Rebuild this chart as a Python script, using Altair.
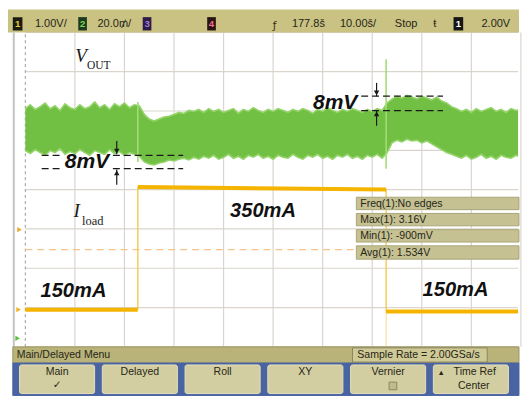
import altair as alt
import pandas as pd

# ------------------------------------------------------------------
# Values
# ------------------------------------------------------------------
US_PER_DIV = 10            # 10.00 us/div, 10 divisions
VOUT_MV_PER_DIV = 20       # channel 2: 20.0 mV/div

TIME_US = list(range(0, 101))
VOUT_TOP_MV = [11.6, 13.6, 11.2, 12.6, 14.5, 11.6, 13.1, 10.7, 14.1, 12.1,
               11.2, 13.6, 11.6, 12.6, 15.0, 12.1, 13.6, 11.2, 14.1, 12.6,
               14.5, 12.1, 13.6, 13.1, 8.7, 6.3, 5.3, 6.3, 7.3, 7.8,
               8.7, 9.7, 9.2, 10.7, 10.2, 11.2, 9.7, 11.6, 10.2, 11.2,
               9.7, 10.7, 11.6, 9.2, 11.2, 10.2, 12.1, 10.7, 9.7, 11.2,
               10.2, 11.6, 10.7, 9.7, 11.2, 10.2, 11.6, 10.7, 9.2, 11.2,
               10.2, 12.1, 10.7, 9.7, 11.2, 10.2, 11.6, 10.7, 9.7, 11.2,
               10.2, 11.6, 10.7, 14.5, 16.5, 17.9, 17.0, 18.4, 17.5, 16.5,
               17.9, 17.0, 16.0, 17.5, 15.5, 14.5, 12.6, 11.6, 10.2, 11.2,
               9.7, 11.6, 10.2, 11.2, 12.1, 10.2, 11.2, 9.7, 11.6, 10.7, 11.2]
VOUT_BOT_MV = [-9.7, -11.2, -9.2, -10.7, -12.1, -9.7, -10.7, -8.7, -11.6, -10.2,
               -11.2, -9.2, -10.7, -12.1, -9.7, -10.7, -11.6, -9.2, -11.2, -10.2,
               -12.1, -10.7, -11.6, -12.6, -15.5, -16.5, -17.0, -16.0, -15.5, -14.5,
               -15.0, -14.1, -13.6, -14.5, -13.1, -14.1, -12.6, -13.6, -12.1, -14.1,
               -13.1, -11.6, -13.6, -12.6, -14.1, -12.1, -13.1, -11.6, -13.6, -12.6,
               -14.1, -12.1, -13.1, -13.6, -11.6, -13.1, -14.1, -12.1, -13.1, -11.6,
               -13.6, -12.6, -14.1, -12.1, -13.1, -11.6, -13.6, -12.6, -14.1, -12.1,
               -13.1, -11.6, -13.6, -10.7, -5.8, -4.4, -5.3, -3.9, -4.8, -4.4,
               -5.8, -4.8, -6.3, -7.8, -9.2, -10.7, -11.6, -12.6, -13.6, -12.1,
               -14.1, -13.1, -11.6, -13.6, -12.6, -14.1, -12.1, -13.1, -13.6, -12.1, -13.1]
SPIKE_T_US = [22.7, 72.8]
SPIKE_TOP_MV = [15.0, 36.8]
SPIKE_BOT_MV = [-15.5, -18.9]

ILOAD_SEGMENT = ["a", "a", "b", "b", "c", "c"]
ILOAD_T_US = [0, 22.7, 22.7, 72.8, 72.8, 100]
ILOAD_MA = [150, 150, 351, 347, 147, 147]
EDGE_T_US = [22.7, 72.8]
EDGE_FROM_MA = [150, 347]
EDGE_TO_MA = [351, 147]

LEVEL_LABELS = ["150mA", "350mA", "150mA"]
RIPPLE_LABELS = ["8mV", "8mV"]
MEASUREMENTS = ["Freq(1):No edges", "Max(1): 3.16V", "Min(1): -900mV", "Avg(1): 1.534V"]
TOP_TEXTS = ["1.00V/", "20.0\u20a5/", "177.8\u0161", "10.00\u0161/", "Stop", "\u0167", "2.00V"]
CHANNEL_TAGS = ["1", "2", "3", "4", "1"]
BUTTONS = ["Main", "Delayed", "Roll", "XY", "Vernier", "Time Ref"]

# ------------------------------------------------------------------
# Screen geometry (reference pixels -> scope units)
# ------------------------------------------------------------------
GRID_LEFT_PX, PX_PER_XDIV = 18, 51.5
GRID_BOTTOM_PX, PX_PER_YDIV = 354, 41.25


def tx(px):
    return (px - GRID_LEFT_PX) / PX_PER_XDIV * US_PER_DIV


def dy(py):
    return (GRID_BOTTOM_PX - py) / PX_PER_YDIV


VOUT_REF_DIV = dy(128)
CH1_MA_PER_DIV = 64.45
CH1_ZERO_DIV = -1.382


def vout_div(mv):
    return VOUT_REF_DIV + mv / VOUT_MV_PER_DIV


def iload_div(ma):
    return CH1_ZERO_DIV + ma / CH1_MA_PER_DIV


CW, CH = 514, 388
FS = 0.965
UI_FONT = "Liberation Sans"
UI_TEXT = "#262618"

XS = alt.Scale(domain=[tx(0), tx(530)], nice=False, zero=False)
YS = alt.Scale(domain=[dy(404), dy(0)], nice=False, zero=False)


def X(f):
    return alt.X(f + ":Q", scale=XS, axis=None)


def Y(f):
    return alt.Y(f + ":Q", scale=YS, axis=None)


def rect_df(rows):
    df = pd.DataFrame(rows, columns=["x0", "y0", "x1", "y1", "fill", "stroke"])
    df["x"] = df.x0.map(tx)
    df["x2"] = df.x1.map(tx)
    df["y"] = df.y0.map(dy)
    df["y2"] = df.y1.map(dy)
    return df


def rect_layer(rows, **kw):
    return alt.Chart(rect_df(rows)).mark_rect(**kw).encode(
        x=X("x"), x2="x2:Q", y=Y("y"), y2="y2:Q",
        fill=alt.Fill("fill:N", scale=None),
        stroke=alt.Stroke("stroke:N", scale=None))


def text_layer(items, **kw):
    # items: (label, x_px, y_px)
    df = pd.DataFrame(items, columns=["label", "px", "py"])
    df["x"] = df.px.map(tx)
    df["y"] = df.py.map(dy)
    return alt.Chart(df).mark_text(**kw).encode(x=X("x"), y=Y("y"), text="label:N")


def hrule_px(rows, **kw):
    # rows: (x0_px, x1_px, y_px)
    df = pd.DataFrame(rows, columns=["a", "b", "c"])
    df["x"] = df.a.map(tx)
    df["x2"] = df.b.map(tx)
    df["y"] = df.c.map(dy)
    return alt.Chart(df).mark_rule(**kw).encode(x=X("x"), x2="x2:Q", y=Y("y"))


def vrule_px(rows, **kw):
    # rows: (x_px, y0_px, y1_px)
    df = pd.DataFrame(rows, columns=["a", "b", "c"])
    df["x"] = df.a.map(tx)
    df["y"] = df.b.map(dy)
    df["y2"] = df.c.map(dy)
    return alt.Chart(df).mark_rule(**kw).encode(x=X("x"), y=Y("y"), y2="y2:Q")


layers = []

# ---- graticule ----
gv = pd.DataFrame({"x": [US_PER_DIV * k for k in range(1, 11)]})
gv["y"] = 0
gv["y2"] = 8
layers.append(alt.Chart(gv).mark_rule(color="#d9d5cd", strokeWidth=1.2).encode(
    x=X("x"), y=Y("y"), y2="y2:Q"))
gh = pd.DataFrame({"y": list(range(0, 9))})
gh["x"] = 0
gh["x2"] = 100
layers.append(alt.Chart(gh).mark_rule(color="#d9d5cd", strokeWidth=1.2, clip=True).encode(
    x=X("x"), x2="x2:Q", y=Y("y")))
g0 = pd.DataFrame({"x": [0], "y": [0], "y2": [8]})
layers.append(alt.Chart(g0).mark_rule(color="#9a9a9a", strokeWidth=1, strokeDash=[3, 3]).encode(
    x=X("x"), y=Y("y"), y2="y2:Q"))
layers.append(vrule_px([(6, 24, 354)], color="#c3c3c3", strokeWidth=2))

# trigger level (dashed orange)
layers.append(hrule_px([(18, 362, 252)], color="#f6c48c", strokeWidth=1.2, strokeDash=[7, 5]))

# ---- Vout band (channel 2) ----
band = pd.DataFrame({"t": TIME_US,
                     "top": [vout_div(v) for v in VOUT_TOP_MV],
                     "bot": [vout_div(v) for v in VOUT_BOT_MV]})
layers.append(alt.Chart(band).mark_area(color="#72c043", clip=True).encode(
    x=X("t"), y=Y("top"), y2="bot:Q"))
edges = pd.concat([
    pd.DataFrame({"t": TIME_US, "v": band["top"], "edge": "top"}),
    pd.DataFrame({"t": TIME_US, "v": band["bot"], "edge": "bot"})])
layers.append(alt.Chart(edges).mark_line(color="#94d36a", strokeWidth=1.6, clip=True).encode(
    x=X("t"), y=Y("v"), detail="edge:N"))
spikes = pd.DataFrame({"t": SPIKE_T_US,
                       "top": [vout_div(v) for v in SPIKE_TOP_MV],
                       "bot": [vout_div(v) for v in SPIKE_BOT_MV]})
layers.append(alt.Chart(spikes).mark_rule(color="#a3dc78", strokeWidth=1.6).encode(
    x=X("t"), y=Y("top"), y2="bot:Q"))

# ---- load current (channel 1) ----
edge_df = pd.DataFrame({"t": EDGE_T_US,
                        "a": [iload_div(v) for v in EDGE_FROM_MA],
                        "b": [iload_div(v) for v in EDGE_TO_MA]})
layers.append(alt.Chart(edge_df).mark_rule(color="#f3c640", strokeWidth=1.3).encode(
    x=X("t"), y=Y("a"), y2="b:Q"))
tail = pd.DataFrame({"t": [EDGE_T_US[1]], "a": [iload_div(EDGE_TO_MA[1])], "b": [0]})
layers.append(alt.Chart(tail).mark_rule(color="#f4d470", strokeWidth=1, opacity=0.8).encode(
    x=X("t"), y=Y("a"), y2="b:Q"))
cur = pd.DataFrame({"t": ILOAD_T_US, "d": [iload_div(v) for v in ILOAD_MA], "seg": ILOAD_SEGMENT})
layers.append(alt.Chart(cur).mark_line(color="#f5b400", strokeWidth=4, clip=True).encode(
    x=X("t"), y=Y("d"), detail="seg:N"))

# left-edge channel markers
mk = pd.DataFrame({"px": [12, 11, 10], "py": [231, 315, 345],
                   "c": ["#f0a830", "#f2b220", "#5cbf3a"]})
mk["x"] = mk.px.map(tx)
mk["y"] = mk.py.map(dy)
layers.append(alt.Chart(mk).mark_point(shape="triangle-right", filled=True, size=28, opacity=1).encode(
    x=X("x"), y=Y("y"), color=alt.Color("c:N", scale=None)))

# ---- annotations ----
layers.append(hrule_px([(35, 55, 153), (109, 182, 153), (35, 55, 167), (109, 182, 167),
                        (367, 452, 91), (367, 452, 106)],
                       color="#1a1a1a", strokeWidth=1.3, strokeDash=[7, 4]))
layers.append(vrule_px([(113, 138, 152), (113, 168, 184), (383, 77, 91), (383, 106, 122)],
                       color="#1a1a1a", strokeWidth=1.2))
heads = pd.DataFrame({"px": [113, 113, 383, 383], "py": [148.5, 171.5, 87.5, 109.5],
                      "shape": ["triangle-down", "triangle-up", "triangle-down", "triangle-up"]})
heads["x"] = heads.px.map(tx)
heads["y"] = heads.py.map(dy)
layers.append(alt.Chart(heads).mark_point(filled=True, size=30, color="#1a1a1a", opacity=1).encode(
    x=X("x"), y=Y("y"), shape=alt.Shape("shape:N", scale=None)))

bold_it = dict(font="Liberation Sans", fontWeight="bold", fontStyle="italic",
               color="#111111", align="center", baseline="middle")
layers.append(text_layer([(RIPPLE_LABELS[0], 82, 160), (RIPPLE_LABELS[1], 340, 98)],
                         fontSize=22 * FS, **bold_it))
layers.append(text_layer([(LEVEL_LABELS[0], 68, 295), (LEVEL_LABELS[1], 265, 212),
                          (LEVEL_LABELS[2], 465, 294)], fontSize=21 * FS, **bold_it))

serif = dict(font="Liberation Serif", color="#1a1a1a", align="left", baseline="alphabetic")
layers.append(text_layer([("V", 70, 55), ("I", 68, 218)], fontSize=20 * FS,
                         fontStyle="italic", **serif))
layers.append(text_layer([("OUT", 82, 62)], fontSize=12 * FS, **serif))
layers.append(text_layer([("load", 77, 226)], fontSize=13 * FS, **serif))

# ---- measurement boxes ----
meas_rows = [(362, 197, 531, 210), (362, 214, 531, 227), (362, 231, 531, 244), (362, 248, 531, 262)]
layers.append(rect_layer([r + ("#c5c192", "#a9a57a") for r in meas_rows], strokeWidth=1))
layers.append(text_layer([(MEASUREMENTS[i], 366, (r[1] + r[3]) / 2 + 0.5) for i, r in enumerate(meas_rows)],
                         font=UI_FONT, fontSize=11 * FS, color=UI_TEXT, align="left", baseline="middle"))

# ---- top status bar ----
layers.append(rect_layer([(0, 0, 531, 24, "#c9c283", "#c9c283")], strokeWidth=0))
tag_boxes = [(5, 8, 15, 22), (73, 8, 82, 22), (140, 8, 149, 22), (207, 8, 216, 22), (463, 8, 473, 22)]
tag_fill = ["#1b1b12", "#1c3a1c", "#2c1d48", "#2a1414", "#151515"]
tag_col = ["#e6cf3c", "#7fd45a", "#a67cd8", "#f07090", "#ffffff"]
layers.append(rect_layer([b + (f, f) for b, f in zip(tag_boxes, tag_fill)], strokeWidth=0))
tags = pd.DataFrame({"label": CHANNEL_TAGS,
                     "x": [tx((b[0] + b[2]) / 2) for b in tag_boxes],
                     "y": [dy(15.5) for b in tag_boxes], "c": tag_col})
layers.append(alt.Chart(tags).mark_text(font=UI_FONT, fontSize=10 * FS, fontWeight="bold",
                                        align="center", baseline="middle").encode(
    x=X("x"), y=Y("y"), text="label:N", color=alt.Color("c:N", scale=None)))
top_x = [28, 93, 295, 345, 402, 442, 492]
layers.append(text_layer([(t, x, 15.5) for t, x in zip(TOP_TEXTS, top_x)],
                         font=UI_FONT, fontSize=11.5 * FS, color=UI_TEXT, align="left", baseline="middle"))
layers.append(text_layer([("\u0192", 275, 17)], font="DejaVu Sans", fontSize=11 * FS,
                         color="#3a2a10", align="left", baseline="middle"))

# ---- bottom menu ----
layers.append(rect_layer([(5, 354, 531, 371, "#b9b379", "#9c9664"),
                          (5, 371, 531, 405, "#4a64a2", "#4a64a2")], strokeWidth=1))
layers.append(rect_layer([(358, 355, 498, 370, "#cfc995", "#8a8560")], strokeWidth=1))
btn_x0 = [12, 98, 184, 270, 356, 442]
layers.append(rect_layer([(x0, 373, x0 + 78, 403, "#d3cea1", "#e4e0bd") for x0 in btn_x0],
                         strokeWidth=1, cornerRadius=2))
layers.append(rect_layer([(396, 391, 404, 399, "#c0ba8c", "#8c8660")], strokeWidth=1))
ui = dict(font=UI_FONT, fontSize=11 * FS, color=UI_TEXT, baseline="middle")
layers.append(text_layer([("Main/Delayed Menu", 9, 362.5),
                          ("Sample Rate = 2.00GSa/s", 363, 362.5)], align="left", **ui))
btn_labels = [(BUTTONS[i], x0 + 39, 380) for i, x0 in enumerate(btn_x0[:5])]
btn_labels.append((BUTTONS[5], 485, 380))
btn_labels.append(("Center", 484, 395))
layers.append(text_layer(btn_labels, align="center", **ui))
layers.append(text_layer([("\u2713", 51, 394.5)], font="DejaVu Sans", fontSize=11 * FS,
                         color=UI_TEXT, align="center", baseline="middle"))
layers.append(text_layer([("\u25b4", 450, 380)], font="DejaVu Sans", fontSize=9 * FS,
                         color=UI_TEXT, align="center", baseline="middle"))

chart = alt.layer(*layers).properties(
    width=CW, height=CH, padding=0, background="#ffffff"
).configure_view(stroke=None)

chart.save("out.html", embed_options={"renderer": "svg", "actions": False})
